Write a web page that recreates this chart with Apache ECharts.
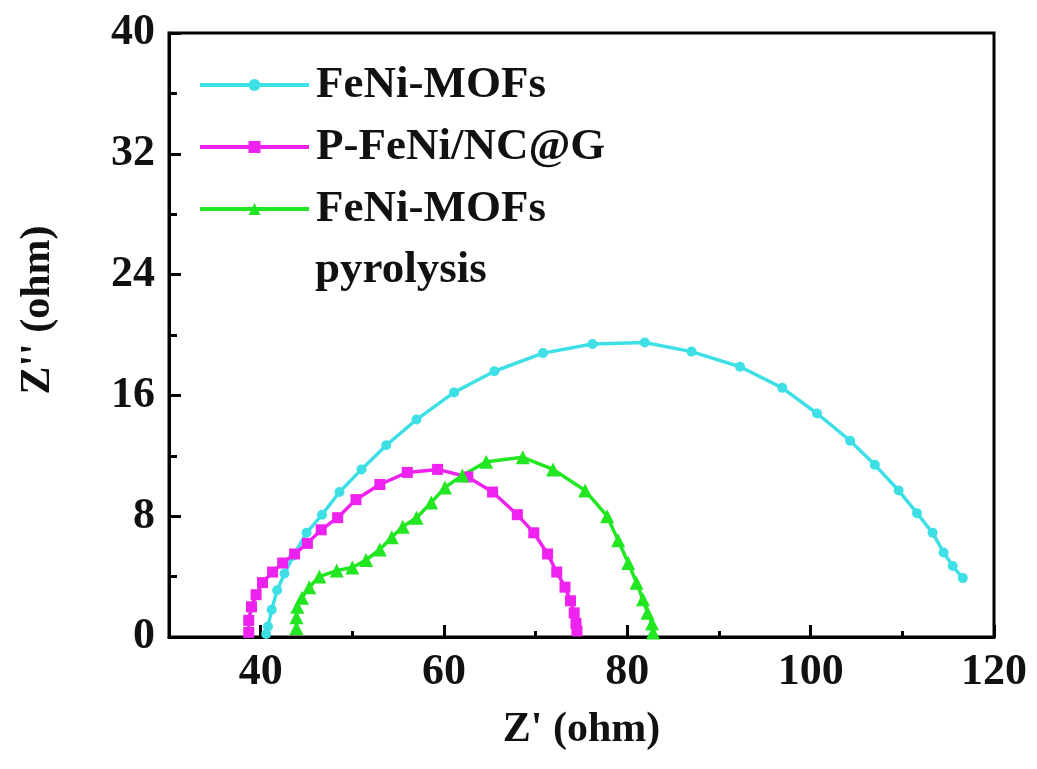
<!DOCTYPE html>
<html lang="en">
<head>
  <meta charset="UTF-8" />
  <title>Nyquist plot</title>
  <script src="https://cdn.jsdelivr.net/npm/echarts@6.0.0/dist/echarts.min.js"></script>
  <style>
    body { margin: 0; background: #fff; }
    #chart { width: 1037px; height: 769px; }
  </style>
</head>
<body>
  <div id="chart"></div>
  <script>
    // values (Z' and Z'' in ohm)
    const mofX = [40.6, 40.8, 41.2, 41.8, 42.6, 43.6, 45.0, 46.7, 48.6, 51.0, 53.7, 57.0, 61.1, 65.5, 70.8, 76.2, 81.9, 87.0, 92.3, 96.9, 100.7, 104.3, 107.0, 109.6, 111.6, 113.3, 114.5, 115.5, 116.6];
    const mofY = [0.2, 0.7, 1.8, 3.1, 4.2, 5.4, 6.9, 8.1, 9.6, 11.1, 12.7, 14.4, 16.2, 17.6, 18.8, 19.4, 19.5, 18.9, 17.9, 16.5, 14.8, 13.0, 11.4, 9.7, 8.2, 6.9, 5.6, 4.7, 3.9];

    const pX = [38.7, 38.7, 39.0, 39.5, 40.2, 41.3, 42.4, 43.7, 45.1, 46.6, 48.4, 50.4, 53.0, 56.0, 59.3, 62.6, 65.3, 68.0, 69.8, 71.3, 72.3, 73.2, 73.8, 74.2, 74.4, 74.5];
    const pY = [0.3, 1.1, 2.0, 2.8, 3.6, 4.3, 4.9, 5.5, 6.2, 7.1, 7.9, 9.1, 10.1, 10.9, 11.1, 10.6, 9.6, 8.1, 6.9, 5.5, 4.3, 3.3, 2.4, 1.6, 0.9, 0.4];

    const pyroX = [43.9, 43.9, 44.0, 44.5, 45.3, 46.4, 48.3, 50.0, 51.5, 53.0, 54.3, 55.5, 57.0, 58.6, 60.1, 62.0, 64.6, 68.6, 71.9, 75.4, 77.8, 79.0, 80.1, 81.0, 81.7, 82.2, 82.7, 82.8];
    const pyroY = [0.6, 1.3, 2.0, 2.6, 3.3, 4.0, 4.4, 4.6, 5.1, 5.8, 6.6, 7.3, 7.9, 8.9, 9.9, 10.7, 11.6, 11.9, 11.1, 9.7, 8.0, 6.4, 4.9, 3.6, 2.5, 1.6, 0.9, 0.3];

    const seriesNames = ['FeNi-MOFs', 'P-FeNi/NC@G', 'FeNi-MOFs pyrolysis'];
    const xMajorTicks = [40, 60, 80, 100, 120];
    const xMinorTicks = [50, 70, 90, 110];

    const pairs = (xs, ys) => xs.map((x, i) => [x, ys[i]]);
    const FONT = "'Liberation Serif', 'Times New Roman', serif";

    const chart = echarts.init(document.getElementById('chart'));

    const option = {
      animation: false,
      backgroundColor: '#fff',
      grid: {
        left: 169, right: 43, top: 33, bottom: 132,
        show: true, borderColor: '#000', borderWidth: 3
      },
      legend: {
        orient: 'vertical',
        left: 193, top: 55,
        itemWidth: 109, itemHeight: 15,
        itemGap: 12,
        selectedMode: false,
        data: seriesNames,
        lineStyle: { width: 4 },
        formatter: function (name) {
          return name === seriesNames[2] ? 'FeNi-MOFs' : name;
        },
        textStyle: {
          fontFamily: FONT, fontWeight: 'bold', fontSize: 45,
          lineHeight: 50, color: '#111', padding: [0, 0, 0, 2]
        }
      },
      graphic: [{
        type: 'text',
        left: 315, top: 248,
        style: {
          text: 'pyrolysis',
          font: "bold 45px 'Liberation Serif', serif",
          fill: '#111'
        }
      }],
      xAxis: [{
        type: 'value',
        min: 30, max: 120,
        position: 'bottom',
        name: "Z' (ohm)",
        nameLocation: 'middle',
        nameGap: 72,
        nameTextStyle: { fontFamily: FONT, fontWeight: 'bold', fontSize: 42, color: '#111' },
        splitLine: { show: false },
        axisLine: { lineStyle: { color: '#000', width: 3 } },
        axisTick: { inside: true, length: 12, lineStyle: { width: 3, color: '#000' }, customValues: xMajorTicks },
        axisLabel: {
          customValues: xMajorTicks, margin: 14,
          fontFamily: FONT, fontWeight: 'bold', fontSize: 44, color: '#111'
        }
      }, {
        type: 'value',
        min: 30, max: 120,
        position: 'bottom',
        splitLine: { show: false },
        axisLine: { show: false },
        axisTick: { inside: true, length: 6, lineStyle: { width: 3, color: '#000' }, customValues: xMinorTicks },
        axisLabel: { show: false }
      }],
      yAxis: {
        type: 'value',
        min: 0, max: 40, interval: 8,
        name: "Z'' (ohm)",
        nameLocation: 'middle',
        nameGap: 110,
        nameTextStyle: {
          fontFamily: FONT, fontWeight: 'bold', fontSize: 42, color: '#111',
          padding: [0, 0, 0, 50]
        },
        splitLine: { show: false },
        axisLine: { lineStyle: { color: '#000', width: 3 } },
        axisTick: { inside: true, length: 12, lineStyle: { width: 3, color: '#000' } },
        minorTick: { show: true, splitNumber: 2, length: 8, lineStyle: { width: 3, color: '#000' } },
        axisLabel: { margin: 14, fontFamily: FONT, fontWeight: 'bold', fontSize: 44, color: '#111' }
      },
      series: [{
        name: seriesNames[0],
        type: 'line',
        data: pairs(mofX, mofY),
        symbol: 'circle', symbolSize: 10,
        color: '#3fdfe6',
        lineStyle: { width: 3.5 }
      }, {
        name: seriesNames[1],
        type: 'line',
        data: pairs(pX, pY),
        symbol: 'rect', symbolSize: 11,
        color: '#ee22ee',
        lineStyle: { width: 3.5 }
      }, {
        name: seriesNames[2],
        type: 'line',
        data: pairs(pyroX, pyroY),
        symbol: 'triangle', symbolSize: 14,
        color: '#22e622',
        lineStyle: { width: 3.5 }
      }]
    };

    chart.setOption(option);
  </script>
</body>
</html>
